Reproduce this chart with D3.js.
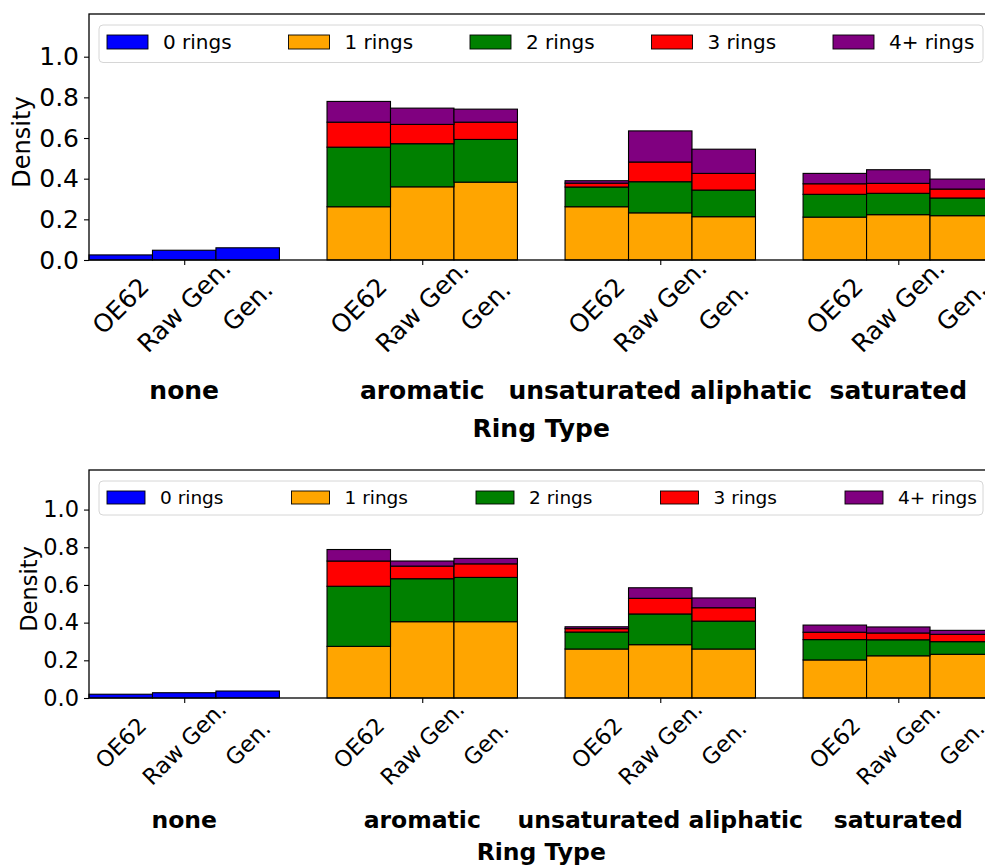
<!DOCTYPE html>
<html>
<head>
<meta charset="utf-8">
<script src="https://cdn.jsdelivr.net/npm/d3@7"></script>
<style>
  html, body { margin: 0; padding: 0; background: #fff; overflow: hidden; }
  svg { display: block; font-family: "DejaVu Sans", sans-serif; }
</style>
</head>
<body>
<svg id="chart" width="985" height="867"></svg>
<script>
// ---------- DATA ----------
const ringTypes = ["none", "aromatic", "unsaturated aliphatic", "saturated"];
const sources = ["OE62", "Raw Gen.", "Gen."];
const ringLabels = ["0 rings", "1 rings", "2 rings", "3 rings", "4+ rings"];
const ringColors = ["blue", "orange", "green", "red", "purple"];
const yTickValues = [0.0, 0.2, 0.4, 0.6, 0.8, 1.0];

// values per ring count, ordered: none(OE62,Raw,Gen), aromatic(...), unsat(...), saturated(...)
const top0 = [0.025, 0.048, 0.060, 0, 0, 0, 0, 0, 0, 0, 0, 0];
const top1 = [0, 0, 0, 0.262, 0.360, 0.383, 0.262, 0.232, 0.213, 0.211, 0.223, 0.218];
const top2 = [0, 0, 0, 0.293, 0.212, 0.210, 0.097, 0.153, 0.131, 0.112, 0.105, 0.087];
const top3 = [0, 0, 0, 0.123, 0.095, 0.085, 0.019, 0.097, 0.082, 0.052, 0.049, 0.044];
const top4 = [0, 0, 0, 0.102, 0.080, 0.064, 0.012, 0.153, 0.119, 0.051, 0.067, 0.049];

const bot0 = [0.020, 0.028, 0.037, 0, 0, 0, 0, 0, 0, 0, 0, 0];
const bot1 = [0, 0, 0, 0.274, 0.405, 0.405, 0.260, 0.283, 0.260, 0.202, 0.224, 0.232];
const bot2 = [0, 0, 0, 0.319, 0.228, 0.235, 0.090, 0.163, 0.148, 0.108, 0.085, 0.067];
const bot3 = [0, 0, 0, 0.134, 0.067, 0.072, 0.018, 0.083, 0.071, 0.039, 0.036, 0.039];
const bot4 = [0, 0, 0, 0.061, 0.027, 0.029, 0.010, 0.056, 0.052, 0.038, 0.032, 0.021];

// ---------- DRAW ----------
const svg = d3.select("#chart");

function drawPanel(cfg) {
  const series = cfg.series;
  const rows = [];
  ringTypes.forEach((t, i) => {
    sources.forEach((s, j) => {
      const row = { type: t, source: s };
      ringLabels.forEach((r, k) => { row[r] = series[k][i * 3 + j]; });
      rows.push(row);
    });
  });

  const x = d3.scaleBand().domain(ringTypes).range([cfg.left, cfg.right])
    .paddingInner(0.2).paddingOuter(0);
  const xs = d3.scaleBand().domain(sources).range([0, x.bandwidth()]).padding(0);
  const y = d3.scaleLinear().domain([0, 1.21]).range([cfg.bottom, cfg.top]);

  const stack = d3.stack().keys(ringLabels)(rows);
  const g = svg.append("g");

  stack.forEach((layer, k) => {
    g.append("g").selectAll("rect").data(layer).join("rect")
      .filter(d => d[1] - d[0] > 0)
      .attr("x", d => x(d.data.type) + xs(d.data.source))
      .attr("width", xs.bandwidth())
      .attr("y", d => y(d[1]))
      .attr("height", d => y(d[0]) - y(d[1]))
      .attr("fill", ringColors[k])
      .attr("stroke", "black")
      .attr("stroke-width", 1.1);
  });

  // spines
  g.append("rect")
    .attr("x", cfg.left).attr("y", cfg.top)
    .attr("width", cfg.right - cfg.left).attr("height", cfg.bottom - cfg.top)
    .attr("fill", "none").attr("stroke", "black").attr("stroke-width", 1.3);

  // y axis
  const yAxis = d3.axisLeft(y).tickValues(yTickValues).tickFormat(d3.format(".1f"))
    .tickSize(5).tickPadding(5);
  const ya = g.append("g").attr("transform", `translate(${cfg.left},0)`).call(yAxis);
  ya.select(".domain").remove();
  ya.selectAll("line").attr("stroke", "black").attr("stroke-width", 1.1);
  ya.selectAll("text").attr("font-size", cfg.tickFont).attr("fill", "black")
    .attr("font-family", "DejaVu Sans");

  // x ticks at group centers
  const xAxis = d3.axisBottom(d3.scalePoint().domain(ringTypes)
      .range([x(ringTypes[0]) + x.bandwidth() / 2, x(ringTypes[3]) + x.bandwidth() / 2]))
    .tickSize(5).tickFormat("");
  const xa = g.append("g").attr("transform", `translate(0,${cfg.bottom})`).call(xAxis);
  xa.select(".domain").remove();
  xa.selectAll("line").attr("stroke", "black").attr("stroke-width", 1.1);

  // rotated source labels
  rows.forEach(r => {
    const cx = x(r.type) + xs(r.source) + xs.bandwidth() / 2;
    g.append("text")
      .attr("transform", `translate(${cx},${cfg.srcLabelY}) rotate(-45)`)
      .attr("text-anchor", "middle")
      .attr("dominant-baseline", "central")
      .attr("font-size", cfg.tickFont)
      .text(r.source);
  });

  // group labels
  ringTypes.forEach(t => {
    g.append("text")
      .attr("x", x(t) + x.bandwidth() / 2).attr("y", cfg.groupY)
      .attr("text-anchor", "middle").attr("dominant-baseline", "central")
      .attr("font-size", cfg.labelFont).attr("font-weight", "bold")
      .text(t);
  });

  // x title
  g.append("text")
    .attr("x", (cfg.left + cfg.right) / 2).attr("y", cfg.titleY)
    .attr("text-anchor", "middle").attr("dominant-baseline", "central")
    .attr("font-size", cfg.labelFont).attr("font-weight", "bold")
    .text("Ring Type");

  // y title
  g.append("text")
    .attr("transform", `translate(${cfg.yLabelX},${(cfg.top + cfg.bottom) / 2 + 5}) rotate(-90)`)
    .attr("text-anchor", "middle").attr("dominant-baseline", "central")
    .attr("font-size", cfg.labelFont2)
    .text("Density");

  // legend
  const L = cfg.legend;
  const lg = g.append("g");
  lg.append("rect")
    .attr("x", L.x0).attr("y", L.y0)
    .attr("width", L.x1 - L.x0).attr("height", L.y1 - L.y0)
    .attr("rx", 4).attr("ry", 4)
    .attr("fill", "white").attr("fill-opacity", 0.8)
    .attr("stroke", "#d6d6d6").attr("stroke-width", 1);
  const cy = L.cy;
  ringLabels.forEach((lab, k) => {
    const px = L.firstX + k * L.step;
    lg.append("rect")
      .attr("x", px).attr("y", cy - L.ph / 2)
      .attr("width", L.pw).attr("height", L.ph)
      .attr("fill", ringColors[k]).attr("stroke", "black").attr("stroke-width", 0.9);
    lg.append("text")
      .attr("x", px + L.pw + L.gap).attr("y", cy)
      .attr("dominant-baseline", "central")
      .attr("font-size", L.font)
      .text(lab);
  });
}

drawPanel({
  series: [top0, top1, top2, top3, top4],
  left: 89, right: 993.5, top: 14, bottom: 260,
  tickFont: 25, labelFont: 25, labelFont2: 24,
  srcLabelY: 306, groupY: 390, titleY: 428, yLabelX: 22,
  legend: { x0: 99, x1: 983, y0: 25, y1: 62.5, cy: 42, firstX: 107, step: 181.5,
            pw: 41, ph: 14, gap: 15, font: 20 }
});

drawPanel({
  series: [bot0, bot1, bot2, bot3, bot4],
  left: 89, right: 993.5, top: 470, bottom: 698,
  tickFont: 22.5, labelFont: 23.5, labelFont2: 22.5,
  srcLabelY: 743, groupY: 820, titleY: 852, yLabelX: 29,
  legend: { x0: 99, x1: 983, y0: 481, y1: 515, cy: 497.5, firstX: 107, step: 184.5,
            pw: 38, ph: 13, gap: 15, font: 18.5 }
});
</script>
</body>
</html>
